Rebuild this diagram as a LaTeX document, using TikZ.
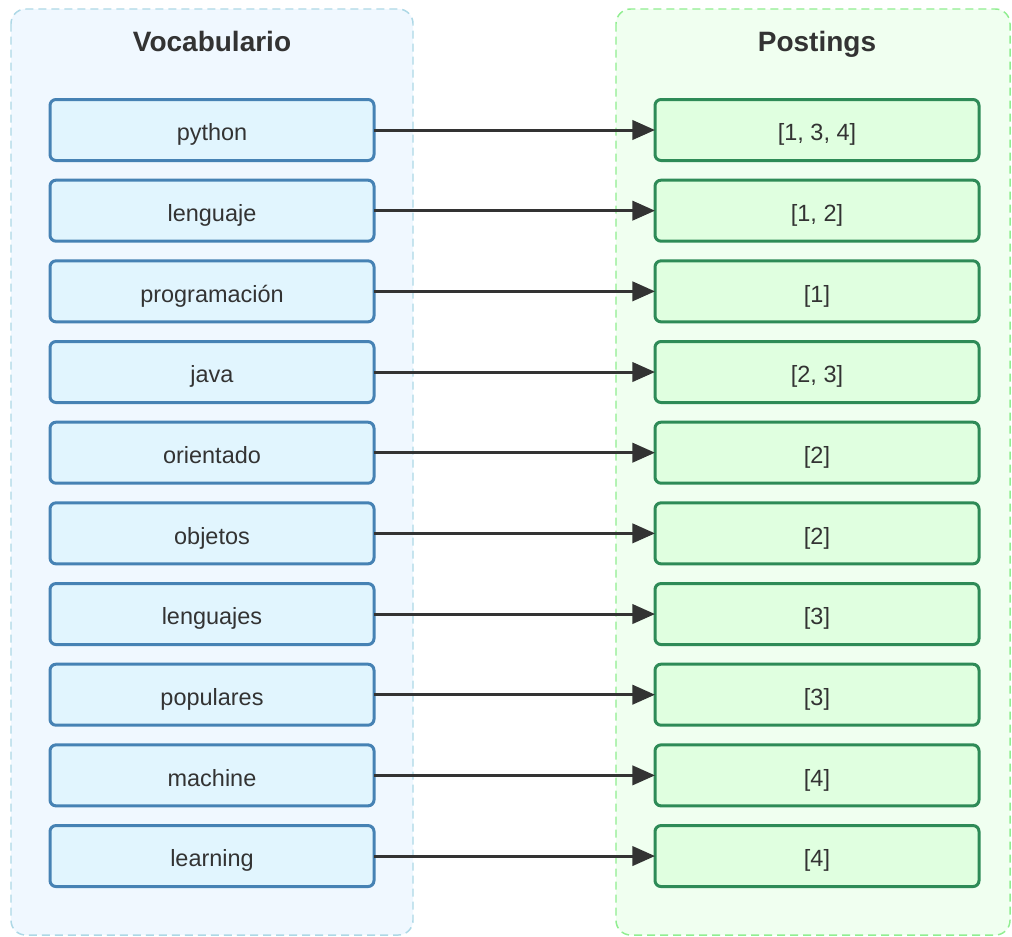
\documentclass[tikz,border=0pt]{standalone}
\usepackage{fontspec}
\setmainfont{Liberation Sans}
\usetikzlibrary{arrows.meta}
\definecolor{vocfill}{HTML}{F0F8FF}
\definecolor{vocedge}{HTML}{ADD8E6}
\definecolor{posfill}{HTML}{F0FFF0}
\definecolor{posedge}{HTML}{90EE90}
\definecolor{termfill}{HTML}{E1F5FE}
\definecolor{termedge}{HTML}{4682B4}
\definecolor{listfill}{HTML}{E0FFE0}
\definecolor{listedge}{HTML}{2E8B57}
\definecolor{ink}{HTML}{333333}
\begin{document}
\begin{tikzpicture}[x=0.75pt,y=-0.75pt,
  cluster/.style={line width=1.1pt, dash pattern=on 6pt off 3.75pt, rounded corners=11pt},
  title/.style={font=\fontsize{21}{25}\selectfont\bfseries, text=ink, anchor=base, inner sep=0pt},
  box/.style={minimum width=243pt, minimum height=45.75pt, rounded corners=4.5pt, line width=2.25pt,
    inner sep=0pt, outer sep=0pt, text=ink, font=\fontsize{17.6}{21}\selectfont,
    text height=16pt, text depth=0pt},
  term/.style={box, draw=termedge, fill=termfill},
  plist/.style={box, draw=listedge, fill=listfill},
  link/.style={draw=ink, line width=2.25pt, -{Triangle[length=17pt,width=14.5pt]}}]
\useasboundingbox (0,0) rectangle (1012,936);
\fill[white] (0,0) rectangle (1012,936);
\draw[cluster, draw=vocedge, fill=vocfill] (11,9) rectangle (413,935);
\draw[cluster, draw=posedge, fill=posfill] (616,9) rectangle (1010,935);
\node[title] (tv) at (212,51) {Vocabulario};
\node[title] (tp) at (817,51) {Postings};
\foreach \i/\t/\p in {1/python/{[1, 3, 4]},2/lenguaje/{[1, 2]},3/programación/{[1]},4/java/{[2, 3]},
  5/orientado/{[2]},6/objetos/{[2]},7/lenguajes/{[3]},8/populares/{[3]},9/machine/{[4]},10/learning/{[4]}}{
  \pgfmathsetmacro{\yy}{130+(\i-1)*80.67}
  \node[term] (l\i) at (212,\yy) {\t};
  \node[plist] (r\i) at (817,\yy) {\p};
  \draw[link] (l\i.east) -- (r\i.west);
}
\end{tikzpicture}
\end{document}
